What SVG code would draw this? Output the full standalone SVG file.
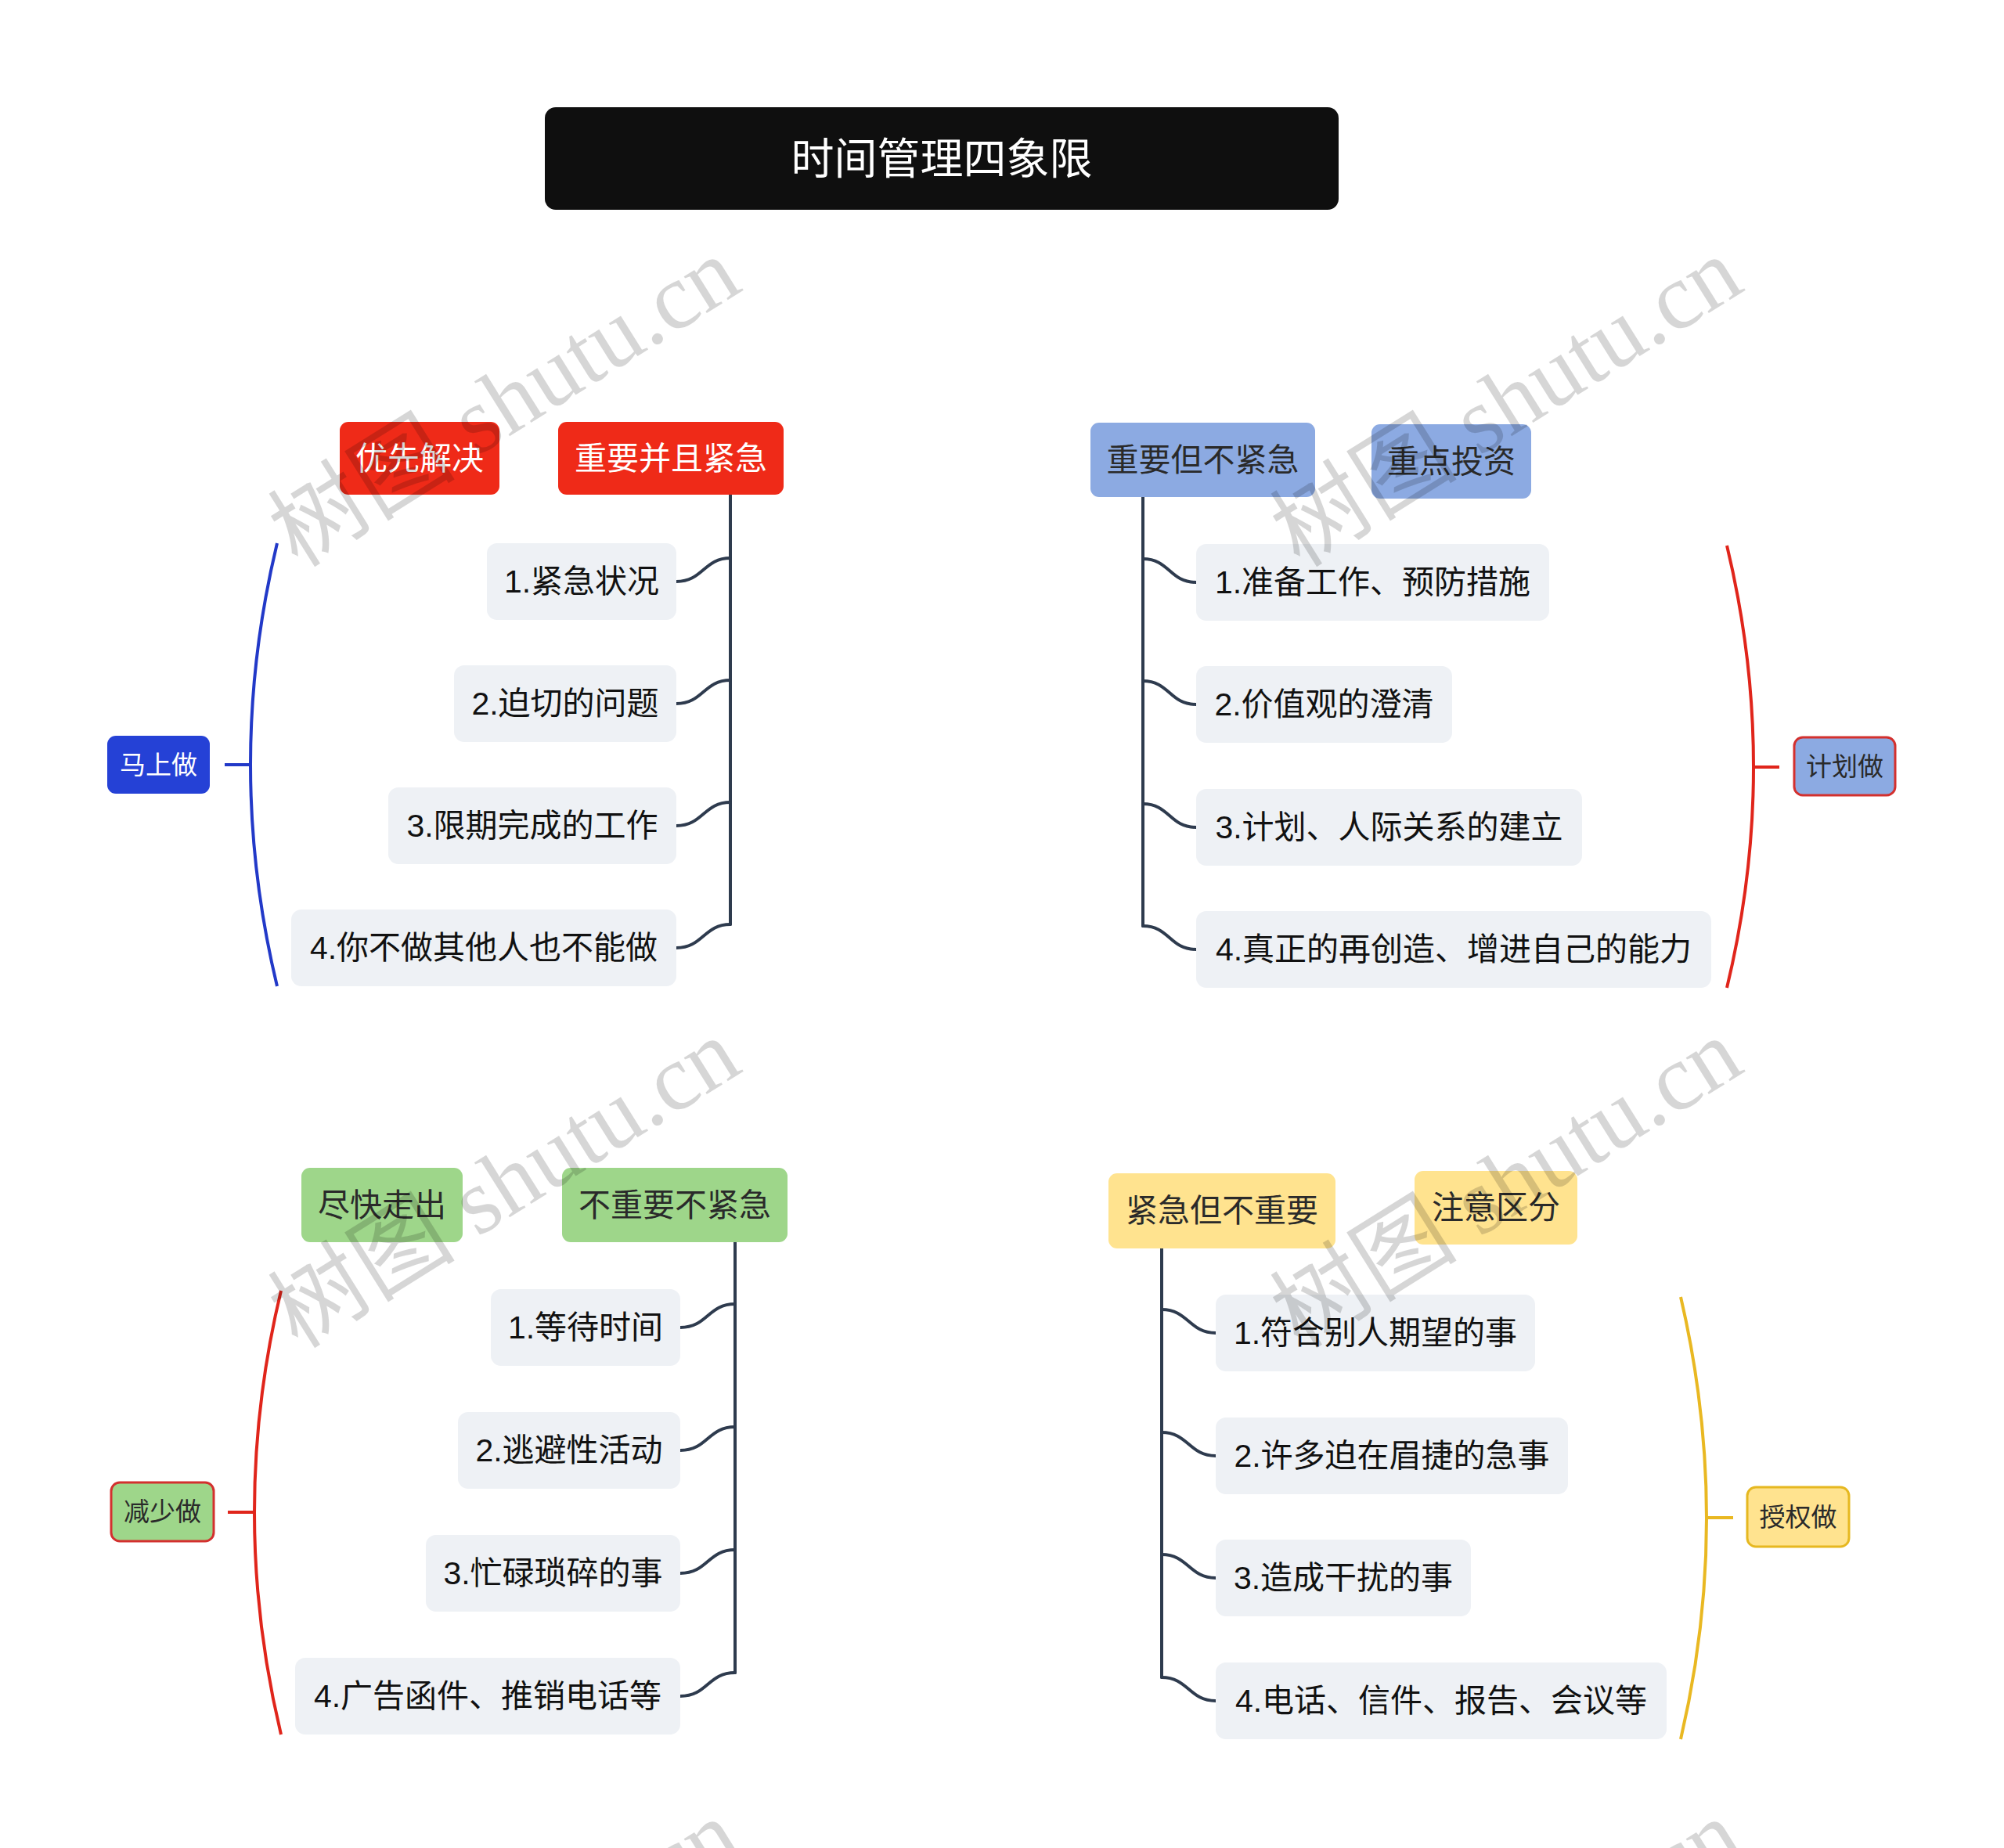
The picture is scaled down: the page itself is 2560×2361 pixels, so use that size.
<svg xmlns="http://www.w3.org/2000/svg" width="2560" height="2361" viewBox="0 0 2560 2361">
<defs>
<style>
text{font-family:"Liberation Sans","Noto Sans CJK SC",sans-serif;text-anchor:middle;dominant-baseline:central}
.t41{font-size:41px}
.t33{font-size:33px}
.item rect{fill:#EEF1F5}
.item text{font-size:41px;fill:#111111}
.red rect{fill:#EF2A18}
.red text{fill:#FFFFFF}
.blue rect{fill:#8CAAE2}
.green rect{fill:#9ED68A}
.yellow rect{fill:#FFE38F}
.dark{fill:#2A2A2A}
.conn path{fill:none;stroke:#2E3B4E;stroke-width:4;stroke-linecap:round}
.wm{font-family:"Liberation Serif","Noto Sans CJK SC",serif;font-size:120px;fill:#000000;fill-opacity:0.16;dominant-baseline:alphabetic}
</style>
</defs>
<rect width="2560" height="2361" fill="#FFFFFF"/>

<g id="connectors">
  <g class="conn">
    <!-- top-left -->
    <path d="M933 632 V1181"/>
    <path d="M864 743 C898 743 899 713 933 713"/>
    <path d="M864 899 C898 899 899 869 933 869"/>
    <path d="M864 1055 C898 1055 899 1025 933 1025"/>
    <path d="M864 1211 C898 1211 899 1181 933 1181"/>
    <!-- top-right -->
    <path d="M1460 635 V1183"/>
    <path d="M1460 714 C1494 714 1494 744 1528 744"/>
    <path d="M1460 870 C1494 870 1494 900 1528 900"/>
    <path d="M1460 1027 C1494 1027 1494 1057 1528 1057"/>
    <path d="M1460 1183 C1494 1183 1494 1213 1528 1213"/>
    <!-- bottom-left -->
    <path d="M939 1587 V2137"/>
    <path d="M869 1696 C904 1696 904 1666 939 1666"/>
    <path d="M869 1853 C904 1853 904 1823 939 1823"/>
    <path d="M869 2010 C904 2010 904 1980 939 1980"/>
    <path d="M869 2167 C904 2167 904 2137 939 2137"/>
    <!-- bottom-right -->
    <path d="M1484 1595 V2143"/>
    <path d="M1484 1673 C1518 1673 1519 1703 1553 1703"/>
    <path d="M1484 1830 C1518 1830 1519 1860 1553 1860"/>
    <path d="M1484 1986 C1518 1986 1519 2016 1553 2016"/>
    <path d="M1484 2143 C1518 2143 1519 2173 1553 2173"/>
  </g>
  <!-- brackets -->
  <g fill="none" stroke-width="4">
    <path d="M354 694 Q286 977 354 1260" stroke="#2239C8"/>
    <path d="M287 977 H320" stroke="#2239C8"/>
    <path d="M2206 697 Q2274 980 2206 1262" stroke="#E0251B"/>
    <path d="M2240 980 H2273" stroke="#E0251B"/>
    <path d="M359 1649 Q291 1932 359 2216" stroke="#E0251B"/>
    <path d="M291 1932 H325" stroke="#E0251B"/>
    <path d="M2147 1657 Q2213 1940 2147 2222" stroke="#E9B822"/>
    <path d="M2180 1939 H2214" stroke="#E9B822"/>
  </g>
</g>

<g id="title">
  <rect x="696" y="137" width="1014" height="131" rx="14" fill="#0F0F0F"/>
  <text x="1203" y="203" font-size="55" fill="#FFFFFF">时间管理四象限</text>
</g>

<!-- Top-left quadrant -->
<g id="n-youxian" class="red">
  <rect x="434" y="539" width="204" height="93" rx="11"/>
  <text class="t41" x="536" y="586">优先解决</text>
</g>
<g id="n-zhongyao-jinji" class="red">
  <rect x="713" y="539" width="288" height="93" rx="11"/>
  <text class="t41" x="857" y="586">重要并且紧急</text>
</g>
<g id="n-tl-1" class="item">
  <rect x="622" y="694" width="242" height="98" rx="13"/>
  <text x="743" y="743">1.紧急状况</text>
</g>
<g id="n-tl-2" class="item">
  <rect x="580" y="850" width="284" height="98" rx="13"/>
  <text x="722" y="899">2.迫切的问题</text>
</g>
<g id="n-tl-3" class="item">
  <rect x="496" y="1006" width="368" height="98" rx="13"/>
  <text x="680" y="1055">3.限期完成的工作</text>
</g>
<g id="n-tl-4" class="item">
  <rect x="372" y="1162" width="492" height="98" rx="13"/>
  <text x="618" y="1211">4.你不做其他人也不能做</text>
</g>
<g id="n-mashangzuo">
  <rect x="137" y="940" width="131" height="74" rx="11" fill="#2541D6"/>
  <text class="t33" x="202.5" y="977" fill="#FFFFFF">马上做</text>
</g>

<!-- Top-right quadrant -->
<g id="n-zhongyao-bujinji" class="blue">
  <rect x="1393" y="540" width="287" height="95" rx="11"/>
  <text class="t41 dark" x="1536.5" y="587.5">重要但不紧急</text>
</g>
<g id="n-zhongdian" class="blue">
  <rect x="1752" y="542" width="204" height="95" rx="11"/>
  <text class="t41 dark" x="1854" y="589.5">重点投资</text>
</g>
<g id="n-tr-1" class="item">
  <rect x="1528" y="695" width="451" height="98" rx="13"/>
  <text x="1753.5" y="744">1.准备工作、预防措施</text>
</g>
<g id="n-tr-2" class="item">
  <rect x="1528" y="851" width="327" height="98" rx="13"/>
  <text x="1691.5" y="900">2.价值观的澄清</text>
</g>
<g id="n-tr-3" class="item">
  <rect x="1528" y="1008" width="493" height="98" rx="13"/>
  <text x="1774.5" y="1057">3.计划、人际关系的建立</text>
</g>
<g id="n-tr-4" class="item">
  <rect x="1528" y="1164" width="658" height="98" rx="13"/>
  <text x="1857" y="1213">4.真正的再创造、增进自己的能力</text>
</g>
<g id="n-jihuazuo">
  <rect x="2292" y="942" width="129" height="74" rx="11" fill="#8CAAE2" stroke="#D3302E" stroke-width="3"/>
  <text class="t33 dark" x="2356.5" y="979">计划做</text>
</g>

<!-- Bottom-left quadrant -->
<g id="n-jinkuai" class="green">
  <rect x="385" y="1492" width="206" height="95" rx="11"/>
  <text class="t41 dark" x="488" y="1539.5">尽快走出</text>
</g>
<g id="n-buzhongyao-bujinji" class="green">
  <rect x="718" y="1492" width="288" height="95" rx="11"/>
  <text class="t41 dark" x="862" y="1539.5">不重要不紧急</text>
</g>
<g id="n-bl-1" class="item">
  <rect x="627" y="1647" width="242" height="98" rx="13"/>
  <text x="748" y="1696">1.等待时间</text>
</g>
<g id="n-bl-2" class="item">
  <rect x="585" y="1804" width="284" height="98" rx="13"/>
  <text x="727" y="1853">2.逃避性活动</text>
</g>
<g id="n-bl-3" class="item">
  <rect x="544" y="1961" width="325" height="98" rx="13"/>
  <text x="706.5" y="2010">3.忙碌琐碎的事</text>
</g>
<g id="n-bl-4" class="item">
  <rect x="377" y="2118" width="492" height="98" rx="13"/>
  <text x="623" y="2167">4.广告函件、推销电话等</text>
</g>
<g id="n-jianshaozuo">
  <rect x="142" y="1894" width="131" height="75" rx="11" fill="#9ED68A" stroke="#D3302E" stroke-width="3"/>
  <text class="t33 dark" x="207.5" y="1931.5">减少做</text>
</g>

<!-- Bottom-right quadrant -->
<g id="n-jinji-buzhongyao" class="yellow">
  <rect x="1416" y="1499" width="290" height="96" rx="11"/>
  <text class="t41 dark" x="1561" y="1547">紧急但不重要</text>
</g>
<g id="n-zhuyi" class="yellow">
  <rect x="1807" y="1496" width="208" height="94" rx="11"/>
  <text class="t41 dark" x="1911" y="1543">注意区分</text>
</g>
<g id="n-br-1" class="item">
  <rect x="1553" y="1654" width="408" height="98" rx="13"/>
  <text x="1757" y="1703">1.符合别人期望的事</text>
</g>
<g id="n-br-2" class="item">
  <rect x="1553" y="1811" width="450" height="98" rx="13"/>
  <text x="1778" y="1860">2.许多迫在眉捷的急事</text>
</g>
<g id="n-br-3" class="item">
  <rect x="1553" y="1967" width="326" height="98" rx="13"/>
  <text x="1716" y="2016">3.造成干扰的事</text>
</g>
<g id="n-br-4" class="item">
  <rect x="1553" y="2124" width="576" height="98" rx="13"/>
  <text x="1841" y="2173">4.电话、信件、报告、会议等</text>
</g>
<g id="n-shouquanzuo">
  <rect x="2232" y="1900" width="130" height="76" rx="11" fill="#FFE38F" stroke="#E6B820" stroke-width="3"/>
  <text class="t33 dark" x="2297" y="1938">授权做</text>
</g>

<!-- watermark -->
<g id="watermark">
  <text class="wm" transform="translate(666 548) rotate(-32)">树图 shutu.cn</text>
  <text class="wm" transform="translate(1946 548) rotate(-32)">树图 shutu.cn</text>
  <text class="wm" transform="translate(666 1546) rotate(-32)">树图 shutu.cn</text>
  <text class="wm" transform="translate(1946 1546) rotate(-32)">树图 shutu.cn</text>
  <text class="wm" transform="translate(666 2544) rotate(-32)">树图 shutu.cn</text>
  <text class="wm" transform="translate(1946 2544) rotate(-32)">树图 shutu.cn</text>
</g>
</svg>
